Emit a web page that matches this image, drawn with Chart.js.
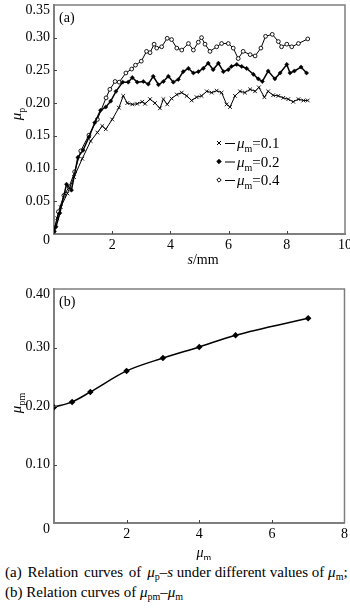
<!DOCTYPE html>
<html>
<head>
<meta charset="utf-8">
<script src="https://cdn.jsdelivr.net/npm/chart.js@4.4.1/dist/chart.umd.min.js"></script>
<style>
  html, body { margin: 0; padding: 0; background: #fff; }
  body { width: 350px; height: 608px; position: relative; overflow: hidden;
         font-family: 'Liberation Serif', 'DejaVu Serif', serif; color: #000; }
  #boxA { position: absolute; left: 0; top: 0; }
  #boxB { position: absolute; left: 0; top: 270px; }
  .cap { position: absolute; left: 5px; font-size: 15px; line-height: 16px; white-space: nowrap; }
  .cap i { font-style: italic; }
  .cap sub { font-size: 10px; vertical-align: -3px; line-height: 0; }
  .wide { word-spacing: 2px; }
</style>
</head>
<body>
<canvas id="boxA" width="350" height="270"></canvas>
<canvas id="boxB" width="350" height="290"></canvas>
<div class="cap" style="top:564px"><span class="wide">(a) Relation curves of </span><i>μ</i><sub>p</sub>–<i>s</i> under different values of <i>μ</i><sub>m</sub>;</div>
<div class="cap" style="top:584px">(b) Relation curves of <i>μ</i><sub>pm</sub>–<i>μ</i><sub>m</sub></div>
<script>
// (a) friction coefficient mu_p against slip s, one curve per mu_m
const mLabels = ['0.1', '0.2', '0.4'];

const s01 = [0, 0.11, 0.23, 0.46, 0.69, 0.97, 1.26, 1.49, 1.66, 1.78, 2.0, 2.23, 2.38, 2.52, 2.69, 2.86, 3.03,
  3.13, 3.3, 3.47, 3.64, 3.76, 3.89, 4.04, 4.22, 4.39, 4.56, 4.73, 4.9, 5.07, 5.25, 5.42, 5.59, 5.76, 5.93,
  6.05, 6.22, 6.39, 6.56, 6.74, 6.91, 7.04, 7.23, 7.36, 7.53, 7.71, 7.88, 8.05, 8.22, 8.4, 8.57, 8.72];
const mu01 = [0.006, 0.024, 0.041, 0.062, 0.087, 0.115, 0.142, 0.155, 0.165, 0.16, 0.175, 0.193, 0.211, 0.2,
  0.198, 0.199, 0.202, 0.199, 0.206, 0.2, 0.192, 0.206, 0.198, 0.207, 0.213, 0.216, 0.211, 0.204, 0.209,
  0.211, 0.218, 0.216, 0.219, 0.216, 0.198, 0.194, 0.211, 0.218, 0.216, 0.221, 0.218, 0.224, 0.209, 0.218,
  0.212, 0.211, 0.208, 0.206, 0.202, 0.206, 0.204, 0.204];

const s02 = [0, 0.07, 0.2, 0.43, 0.6, 0.82, 1.0, 1.2, 1.4, 1.6, 1.78, 1.95, 2.13, 2.36, 2.55, 2.69, 2.86,
  3.07, 3.24, 3.41, 3.59, 3.76, 3.93, 4.1, 4.27, 4.44, 4.62, 4.79, 4.96, 5.13, 5.3, 5.47, 5.65, 5.82, 5.99,
  6.1, 6.28, 6.45, 6.62, 6.85, 7.02, 7.16, 7.36, 7.59, 7.77, 8.0, 8.11, 8.26, 8.49, 8.68];
const mu02 = [0.004, 0.011, 0.032, 0.076, 0.067, 0.117, 0.128, 0.148, 0.17, 0.189, 0.194, 0.203, 0.218,
  0.232, 0.232, 0.239, 0.232, 0.233, 0.229, 0.241, 0.228, 0.233, 0.241, 0.232, 0.236, 0.248, 0.253, 0.246,
  0.248, 0.253, 0.261, 0.251, 0.261, 0.248, 0.251, 0.256, 0.259, 0.256, 0.253, 0.244, 0.237, 0.233, 0.249,
  0.237, 0.246, 0.259, 0.246, 0.249, 0.255, 0.246];

const s04 = [0, 0.15, 0.34, 0.52, 0.71, 0.92, 1.2, 1.49, 1.79, 1.92, 2.1, 2.24, 2.47, 2.67, 2.8, 3.0, 3.18,
  3.3, 3.44, 3.53, 3.7, 3.89, 4.04, 4.22, 4.39, 4.62, 4.79, 4.96, 5.07, 5.19, 5.36, 5.59, 5.76, 5.99, 6.16,
  6.33, 6.5, 6.74, 6.91, 7.11, 7.27, 7.5, 7.71, 7.82, 8.0, 8.17, 8.4, 8.72];
const mu04 = [0.004, 0.034, 0.059, 0.072, 0.095, 0.127, 0.151, 0.175, 0.208, 0.221, 0.233, 0.232, 0.246,
  0.252, 0.258, 0.264, 0.279, 0.277, 0.29, 0.284, 0.286, 0.299, 0.297, 0.284, 0.281, 0.291, 0.281, 0.293,
  0.3, 0.29, 0.279, 0.286, 0.291, 0.291, 0.284, 0.268, 0.279, 0.274, 0.272, 0.284, 0.302, 0.305, 0.294,
  0.286, 0.29, 0.286, 0.291, 0.298];

// (b) peak friction coefficient mu_pm against mu_m
const muM = [0, 0.5, 1, 2, 3, 4, 5, 7];
const muPM = [0.198, 0.207, 0.224, 0.26, 0.282, 0.301, 0.321, 0.35];

const SERIF = "'Liberation Serif', 'DejaVu Serif', serif";
const GREY = '#7f7f7f';

const pts = (xs, ys) => xs.map((v, i) => ({x: v, y: ys[i]}));

// draws a run of text pieces: [text, 'i' italic | 's' subscript | '' roman]
function drawRich(ctx, parts, x, y, size, align) {
  const fontOf = p => (p[1] === 'i' ? 'italic ' : '') + (p[1] === 's' ? Math.round(size * 0.68) : size) + 'px ' + SERIF;
  let w = 0;
  parts.forEach(p => { ctx.font = fontOf(p); w += ctx.measureText(p[0]).width; });
  let cx = align === 'center' ? x - w / 2 : align === 'right' ? x - w : x;
  ctx.textAlign = 'left';
  ctx.textBaseline = 'alphabetic';
  parts.forEach(p => {
    ctx.font = fontOf(p);
    ctx.fillText(p[0], cx, y + (p[1] === 's' ? size * 0.28 : 0));
    cx += ctx.measureText(p[0]).width;
  });
}

function drawMarker(ctx, style, x, y) {
  ctx.beginPath();
  if (style === 'crossRot') {
    ctx.moveTo(x - 2, y - 2); ctx.lineTo(x + 2, y + 2);
    ctx.moveTo(x + 2, y - 2); ctx.lineTo(x - 2, y + 2);
    ctx.stroke();
  } else {
    ctx.moveTo(x, y - 2.2); ctx.lineTo(x + 2.2, y); ctx.lineTo(x, y + 2.2); ctx.lineTo(x - 2.2, y); ctx.closePath();
    ctx.fillStyle = style === 'rectRot' ? '#000' : '#fff';
    ctx.fill();
    ctx.stroke();
  }
}

// box frame, inward ticks, corner labels, titles and the inline key
const paperFrame = {
  id: 'paperFrame',
  afterDraw(chart, args, o) {
    const {ctx, chartArea: a, scales: {x, y}} = chart;
    ctx.save();
    ctx.strokeStyle = GREY;
    ctx.lineWidth = 1.5;
    ctx.beginPath();
    ctx.moveTo(a.left, a.top); ctx.lineTo(a.right, a.top); ctx.lineTo(a.right, a.bottom);
    ctx.stroke();

    ctx.strokeStyle = '#444';
    ctx.lineWidth = 1;
    ctx.beginPath();
    x.ticks.forEach(t => {
      const px = Math.round(x.getPixelForValue(t.value)) + 0.5;
      if (px > a.left + 2 && px < a.right - 2) { ctx.moveTo(px, a.bottom); ctx.lineTo(px, a.bottom - 3); }
    });
    y.ticks.forEach(t => {
      const py = Math.round(y.getPixelForValue(t.value)) + 0.5;
      if (py > a.top + 2 && py < a.bottom - 2) { ctx.moveTo(a.left, py); ctx.lineTo(a.left + 3, py); }
    });
    ctx.stroke();

    ctx.fillStyle = '#000';
    drawRich(ctx, [['0', '']], a.left - 4, a.bottom + 10, 14, 'right');
    drawRich(ctx, [[o.topLabel, '']], a.left - 4, a.top + 9, 14, 'right');
    drawRich(ctx, [[o.tag, '']], a.left + 5, a.top + 17, 14, 'left');
    drawRich(ctx, o.xTitle, o.xTitlePos[0], o.xTitlePos[1], 14, 'center');

    ctx.save();
    ctx.translate(o.yTitlePos[0], o.yTitlePos[1]);
    ctx.rotate(-Math.PI / 2);
    drawRich(ctx, o.yTitle, 0, 0, 15, 'center');
    ctx.restore();

    if (o.key) {
      chart.data.datasets.forEach((ds, i) => {
        const ky = o.key[1] + i * 18.5;
        ctx.strokeStyle = '#000';
        ctx.lineWidth = 1;
        drawMarker(ctx, ds.pointStyle, o.key[0], ky);
        ctx.beginPath();
        ctx.moveTo(o.key[0] + 6, ky + 0.5); ctx.lineTo(o.key[0] + 16, ky + 0.5);
        ctx.stroke();
        ctx.fillStyle = '#000';
        drawRich(ctx, [['μ', 'i'], ['m', 's'], ['=' + ds.label, '']], o.key[0] + 18, ky + 5, 15, 'left');
      });
    }
    ctx.restore();
  }
};

function axes(xMax, xStep, yMax, yStep, xHeight) {
  const near = (a, b) => Math.abs(a - b) < 1e-9;
  return {
    x: {
      type: 'linear', min: 0, max: xMax,
      ticks: {stepSize: xStep, padding: 3, color: '#000', font: {family: SERIF, size: 14},
        callback: v => near(v, 0) ? '' : String(Math.round(v))},
      grid: {display: false, drawTicks: false},
      border: {display: true, color: GREY, width: 2},
      afterFit: s => { s.height = xHeight; s.paddingLeft = 0; s.paddingRight = 0; }
    },
    y: {
      type: 'linear', min: 0, max: yMax,
      ticks: {stepSize: yStep, padding: 4, color: '#000', font: {family: SERIF, size: 14},
        callback: v => (near(v, 0) || near(v, yMax)) ? '' : v.toFixed(2)},
      grid: {display: false, drawTicks: false},
      border: {display: true, color: GREY, width: 2},
      afterFit: s => { s.width = 54; s.paddingTop = 0; s.paddingBottom = 0; }
    }
  };
}

const common = {
  responsive: false,
  animation: false,
  events: [],
  plugins: {legend: {display: false}, tooltip: {enabled: false}}
};

new Chart(document.getElementById('boxA').getContext('2d'), {
  type: 'line',
  data: {
    datasets: [
      {label: mLabels[0], data: pts(s01, mu01), pointStyle: 'crossRot', pointRadius: 2.6,
        borderColor: '#000', borderWidth: 1, pointBorderColor: '#000', pointBorderWidth: 0.9, tension: 0},
      {label: mLabels[1], data: pts(s02, mu02), pointStyle: 'rectRot', pointRadius: 2.1,
        borderColor: '#000', borderWidth: 1.5, pointBackgroundColor: '#000', pointBorderColor: '#000',
        pointBorderWidth: 0.5, tension: 0},
      {label: mLabels[2], data: pts(s04, mu04), pointStyle: 'circle', pointRadius: 1.9,
        borderColor: '#000', borderWidth: 1, pointBackgroundColor: '#fff', pointBorderColor: '#000',
        pointBorderWidth: 0.9, tension: 0}
    ]
  },
  options: {
    ...common,
    layout: {padding: {top: 3, right: 5, left: 0, bottom: 0}},
    scales: axes(10, 2, 0.35, 0.05, 36),
    plugins: {
      ...common.plugins,
      paperFrame: {
        tag: '(a)', topLabel: '0.35',
        xTitle: [['s', 'i'], ['/mm', '']], xTitlePos: [203, 264],
        yTitle: [['μ', 'i'], ['p', 's']], yTitlePos: [21, 114],
        key: [219, 143]
      }
    }
  },
  plugins: [paperFrame]
});

new Chart(document.getElementById('boxB').getContext('2d'), {
  type: 'line',
  data: {
    datasets: [
      {label: 'mu_pm', data: pts(muM, muPM), pointStyle: 'rectRot', pointRadius: 2.2,
        borderColor: '#000', borderWidth: 1.5, pointBackgroundColor: '#000', pointBorderColor: '#000',
        cubicInterpolationMode: 'monotone'}
    ]
  },
  options: {
    ...common,
    layout: {padding: {top: 19, right: 5, left: 0, bottom: 0}},
    scales: axes(8, 2, 0.4, 0.1, 37),
    plugins: {
      ...common.plugins,
      paperFrame: {
        tag: '(b)', topLabel: '0.40',
        xTitle: [['μ', 'i'], ['m', 's']], xTitlePos: [204, 287],
        yTitle: [['μ', 'i'], ['pm', 's']], yTitlePos: [21, 133]
      }
    }
  },
  plugins: [paperFrame]
});
</script>
</body>
</html>
